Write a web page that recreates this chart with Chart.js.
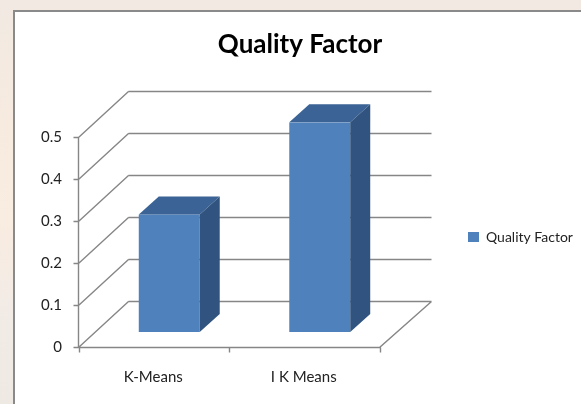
<!DOCTYPE html>
<html>
<head>
<meta charset="utf-8">
<title>Quality Factor</title>
<script src="https://cdn.jsdelivr.net/npm/chart.js@4.4.1/dist/chart.umd.min.js"></script>
<style>
  html, body { margin: 0; padding: 0; overflow: hidden; }
  body {
    width: 581px; height: 404px; position: relative;
    background: linear-gradient(180deg, #f1e9e2 0%, #f7ebe0 30%, #f9ece1 55%, #f1ebe6 80%, #efe9e4 100%);
  }
  #frame {
    position: absolute; left: 13px; top: 10px; width: 620px; height: 440px;
    background: #fff; border-left: 2px solid #8a8a8a; border-top: 2px solid #8a8a8a;
  }
  canvas { position: absolute; left: 0; top: 0; }
</style>
</head>
<body>
<div id="frame"></div>
<canvas id="chart" width="581" height="404"></canvas>
<script>
var categories = ['K-Means', 'I K Means']
var qualityFactor = [0.28, 0.5]
var seriesName = 'Quality Factor'
var yTicks = [0, 0.1, 0.2, 0.3, 0.4, 0.5]

// offsets of the 3d planes, relative to the bar fronts (= chart area)
var front = {dx: -16, dy: 15}
var back = {dx: 34, dy: -31}
var depth = {dx: 20, dy: -18}

var gridColor = '#868686'
var textColor = '#222'

Chart.defaults.font.family = 'Lato'
Chart.defaults.color = textColor

function crisp(v) { return Math.round(v) + 0.5 }

// walls, floor and front axis of the 3d box + the top/side of every bar
var box3d = {
  id: 'box3d',
  beforeDatasetsDraw: function(chart) {
    var ctx = chart.ctx, area = chart.chartArea, y = chart.scales.y
    var fl = crisp(area.left + front.dx), fr = crisp(area.right + front.dx)
    var bl = crisp(area.left + back.dx), br = crisp(area.right + back.dx + 2)
    var f0 = crisp(y.getPixelForValue(0) + front.dy)
    var b0 = crisp(y.getPixelForValue(0) + back.dy)
    var fTop = crisp(y.getPixelForValue(y.max) + front.dy)
    ctx.save()
    ctx.strokeStyle = gridColor
    ctx.lineWidth = 1.4
    ctx.beginPath()
    yTicks.forEach(function(v) {
      var py = y.getPixelForValue(v)
      var fy = crisp(py + front.dy), by = crisp(py + back.dy)
      ctx.moveTo(bl, by); ctx.lineTo(br, by)
      ctx.moveTo(fl, fy); ctx.lineTo(bl, by)
      ctx.moveTo(fl - 5, fy); ctx.lineTo(fl, fy)
    })
    ctx.moveTo(fl, fTop); ctx.lineTo(fl, f0)
    ctx.moveTo(fl, f0); ctx.lineTo(fr, f0); ctx.lineTo(br, b0)
    var step = (fr - fl) / categories.length
    for (var i = 0; i <= categories.length; i++) {
      var tx = crisp(fl + i * step)
      ctx.moveTo(tx, f0); ctx.lineTo(tx, f0 + 5)
    }
    ctx.stroke()
    ctx.restore()
  },
  afterDatasetsDraw: function(chart) {
    var ctx = chart.ctx
    chart.getDatasetMeta(0).data.forEach(function(bar) {
      var p = bar.getProps(['x', 'y', 'base', 'width'], true)
      var l = p.x - p.width / 2, r = p.x + p.width / 2
      ctx.save()
      ctx.fillStyle = '#3b6395'
      ctx.beginPath()
      ctx.moveTo(l, p.y)
      ctx.lineTo(l + depth.dx, p.y + depth.dy)
      ctx.lineTo(r + depth.dx, p.y + depth.dy)
      ctx.lineTo(r, p.y)
      ctx.closePath()
      ctx.fill()
      ctx.fillStyle = '#30547f'
      ctx.beginPath()
      ctx.moveTo(r, p.y)
      ctx.lineTo(r + depth.dx, p.y + depth.dy)
      ctx.lineTo(r + depth.dx, p.base + depth.dy)
      ctx.lineTo(r, p.base)
      ctx.closePath()
      ctx.fill()
      ctx.restore()
    })
  },
  afterLayout: function(chart) {
    // legend sits a little under the middle of the plot
    chart.legend.top += 10
    chart.legend.bottom += 10
  }
}

new Chart(document.getElementById('chart'), {
  type: 'bar',
  data: {
    labels: categories,
    datasets: [{
      label: seriesName,
      data: qualityFactor,
      backgroundColor: '#4f81bd',
      borderWidth: 0,
      barPercentage: 0.405,
      categoryPercentage: 1
    }]
  },
  options: {
    responsive: false,
    animation: false,
    devicePixelRatio: 1,
    layout: {padding: {left: 19, right: 0, top: 0, bottom: 0}},
    scales: {
      x: {
        grid: {display: false, drawTicks: false},
        border: {display: false},
        ticks: {labelOffset: front.dx, padding: 36, font: {size: 15}, color: textColor},
        afterFit: function(s) { s.height = 72 }
      },
      y: {
        min: 0,
        max: 0.5,
        grid: {display: false, drawTicks: false},
        border: {display: false},
        afterBuildTicks: function(s) { s.ticks = yTicks.map(function(v) { return {value: v} }) },
        ticks: {labelOffset: front.dy, padding: 32, font: {size: 15}, color: textColor},
        afterFit: function(s) { s.width = 75 }
      }
    },
    plugins: {
      title: {
        display: true,
        text: seriesName,
        color: '#000',
        font: {size: 26, weight: 'bold'},
        padding: {top: 29, bottom: 62}
      },
      legend: {
        position: 'right',
        fullSize: false,
        maxWidth: 186,
        labels: {boxWidth: 11, boxHeight: 10, padding: 73, font: {size: 14}, color: textColor}
      },
      tooltip: {enabled: false}
    }
  },
  plugins: [box3d]
})
</script>
</body>
</html>
